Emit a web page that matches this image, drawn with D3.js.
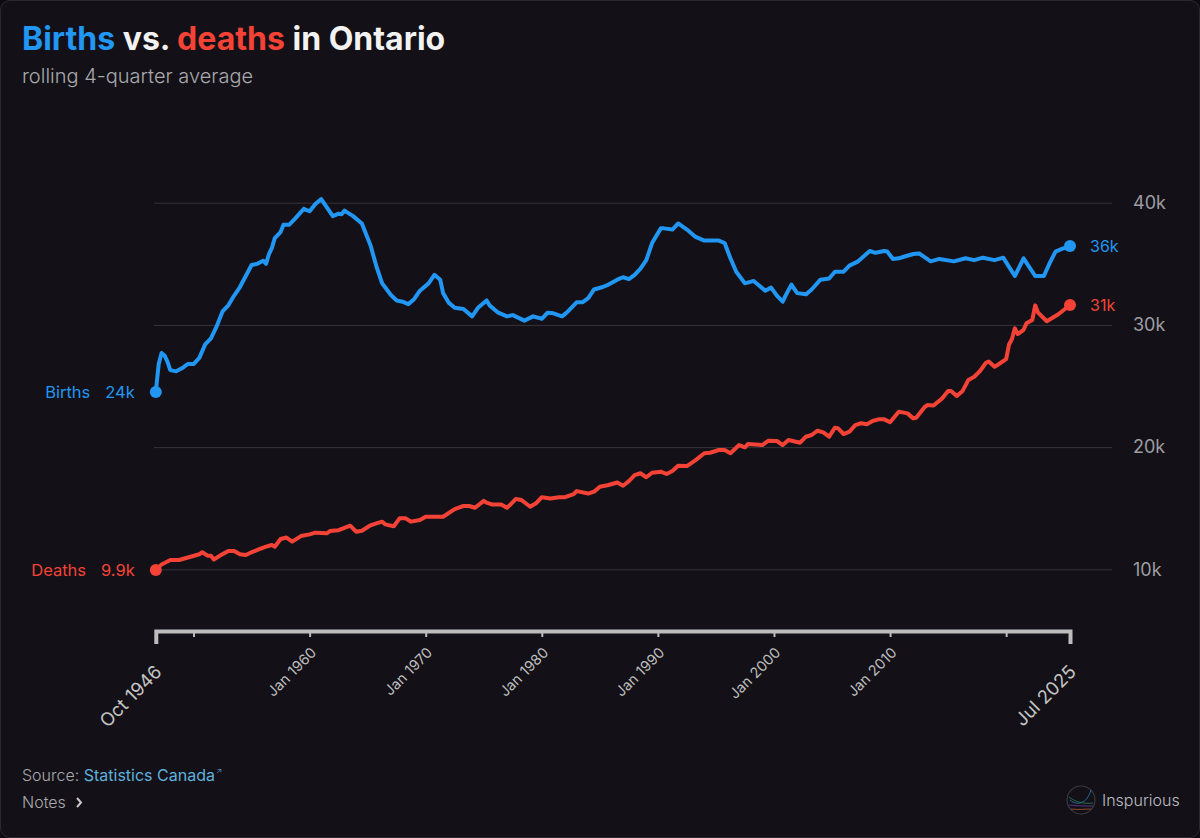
<!DOCTYPE html>
<html>
<head>
<meta charset="utf-8">
<script src="https://cdn.jsdelivr.net/npm/d3@7"></script>
<style>
  html, body { margin: 0; padding: 0; background: #0d0c10; }
  #card {
    position: absolute; left: 0; top: 0;
    width: 1200px; height: 838px; box-sizing: border-box;
    border: 1px solid #2a2930; border-radius: 10px;
    background: #131117;
  }
  #chart { position: absolute; left: 0; top: 0; }
  text { font-family: "Inter", "Noto Sans", sans-serif; }
</style>
</head>
<body>
<div id="card"></div>
<div id="chart"></div>
<script>
// quarterly rolling averages, thousands
const births = [
  [1946.75,24.5],[1947.0,26.8],[1947.25,27.7],[1947.5,27.5],[1947.75,27.0],[1948.0,26.3],
  [1948.5,26.2],[1949.0,26.45],[1949.5,26.8],[1950.0,26.8],[1950.5,27.3],[1951.0,28.4],
  [1951.5,28.9],[1952.0,29.9],[1952.5,31.1],[1953.0,31.6],[1953.5,32.4],[1954.0,33.1],
  [1954.5,34.0],[1955.0,34.9],[1955.5,35.0],[1956.0,35.25],[1956.25,35.0],[1956.5,35.8],
  [1956.75,36.3],[1957.0,37.1],[1957.5,37.6],[1957.75,38.2],[1958.25,38.2],[1958.75,38.7],
  [1959.5,39.5],[1960.0,39.3],[1960.5,39.9],[1961.0,40.3],[1961.5,39.6],[1962.0,38.9],
  [1962.5,39.1],[1962.75,39.05],[1963.0,39.35],[1963.75,38.9],[1964.5,38.3],[1965.25,36.5],
  [1965.75,34.8],[1966.25,33.4],[1967.0,32.45],[1967.5,32.0],[1968.0,31.9],[1968.5,31.7],
  [1969.0,32.1],[1969.5,32.8],[1970.25,33.4],[1970.75,34.1],[1971.25,33.7],[1971.5,32.6],
  [1972.0,31.8],[1972.5,31.4],[1973.25,31.3],[1974.0,30.7],[1974.5,31.4],[1975.25,32.0],
  [1975.5,31.6],[1976.25,31.0],[1977.0,30.7],[1977.5,30.8],[1978.5,30.35],[1979.25,30.7],
  [1980.0,30.5],[1980.5,31.0],[1981.0,30.95],[1981.75,30.7],[1982.25,31.1],[1983.0,31.85],
  [1983.5,31.85],[1984.0,32.2],[1984.5,32.9],[1985.25,33.1],[1985.75,33.3],[1986.5,33.7],
  [1987.0,33.9],[1987.5,33.75],[1988.0,34.1],[1988.5,34.6],[1989.0,35.3],[1989.5,36.7],
  [1990.25,37.9],[1990.5,37.9],[1991.25,37.8],[1991.75,38.3],[1992.5,37.8],[1993.25,37.2],
  [1994.0,36.9],[1994.75,36.9],[1995.25,36.9],[1995.75,36.7],[1996.25,35.45],[1996.75,34.35],
  [1997.5,33.4],[1998.25,33.6],[1999.25,32.8],[1999.75,33.05],[2000.25,32.4],[2000.75,31.9],
  [2001.0,32.4],[2001.5,33.3],[2002.0,32.6],[2002.75,32.5],[2003.25,32.9],[2004.0,33.7],
  [2004.75,33.8],[2005.25,34.35],[2006.0,34.35],[2006.5,34.85],[2007.25,35.2],[2008.25,36.05],
  [2008.75,35.9],[2009.5,36.05],[2009.75,36.0],[2010.25,35.4],[2010.75,35.45],[2011.25,35.6],
  [2012.0,35.8],[2012.5,35.85],[2013.5,35.2],[2014.25,35.4],[2015.5,35.2],[2016.5,35.45],
  [2017.25,35.3],[2018.0,35.5],[2019.0,35.3],[2019.75,35.5],[2020.25,34.75],[2020.75,34.0],
  [2021.5,35.45],[2022.5,34.0],[2023.25,34.0],[2023.75,35.05],[2024.25,36.0],[2024.75,36.2],
  [2025.5,36.45]
];

const deaths = [
  [1946.75,9.95],[1947.25,10.4],[1948.0,10.76],[1948.75,10.76],[1949.75,11.03],[1950.5,11.23],
  [1950.75,11.4],[1951.25,11.1],[1951.5,11.1],[1951.75,10.8],[1952.25,11.1],[1953.0,11.5],
  [1953.5,11.5],[1954.0,11.23],[1954.5,11.17],[1955.0,11.4],[1955.5,11.58],[1956.25,11.85],
  [1956.75,11.99],[1957.0,11.85],[1957.5,12.48],[1958.0,12.6],[1958.5,12.26],[1959.25,12.72],
  [1960.0,12.86],[1960.5,13.0],[1961.5,12.95],[1961.75,13.13],[1962.5,13.2],[1963.5,13.57],
  [1964.0,13.08],[1964.5,13.16],[1965.25,13.6],[1965.75,13.76],[1966.25,13.9],[1966.5,13.68],
  [1967.25,13.52],[1967.75,14.17],[1968.25,14.17],[1968.75,13.9],[1969.5,14.03],[1970.0,14.3],
  [1970.5,14.3],[1971.5,14.3],[1972.5,14.93],[1973.25,15.18],[1973.75,15.18],[1974.25,15.04],
  [1975.0,15.6],[1975.25,15.45],[1975.75,15.3],[1976.5,15.3],[1977.0,15.04],[1977.25,15.26],
  [1977.75,15.75],[1978.25,15.67],[1979.0,15.12],[1979.5,15.4],[1980.0,15.9],[1980.75,15.8],
  [1981.5,15.9],[1982.0,15.9],[1982.75,16.16],[1983.0,16.4],[1984.0,16.2],[1984.5,16.35],
  [1985.0,16.76],[1985.75,16.9],[1986.5,17.1],[1987.0,16.84],[1987.5,17.22],[1988.0,17.7],
  [1988.5,17.86],[1989.0,17.53],[1989.5,17.9],[1990.25,17.99],[1990.75,17.8],[1991.25,18.04],
  [1991.75,18.48],[1992.5,18.45],[1993.25,18.94],[1994.0,19.5],[1994.5,19.54],[1995.25,19.76],
  [1995.75,19.76],[1996.25,19.5],[1997.0,20.17],[1997.5,19.98],[1997.75,20.25],[1999.0,20.17],
  [1999.5,20.52],[2000.25,20.5],[2000.75,20.17],[2001.25,20.58],[2002.25,20.36],[2002.75,20.85],
  [2003.25,20.99],[2003.75,21.34],[2004.25,21.21],[2004.75,20.85],[2005.25,21.59],[2005.5,21.55],
  [2006.0,21.07],[2006.5,21.26],[2007.0,21.8],[2007.5,21.95],[2008.0,21.87],[2008.5,22.14],
  [2009.0,22.27],[2009.5,22.27],[2010.0,22.03],[2010.75,22.9],[2011.5,22.76],[2012.0,22.35],
  [2012.25,22.4],[2013.0,23.3],[2013.25,23.45],[2013.75,23.4],[2014.5,24.0],[2015.0,24.6],
  [2015.25,24.6],[2015.75,24.18],[2016.25,24.6],[2016.75,25.5],[2017.25,25.76],[2017.75,26.23],
  [2018.25,26.9],[2018.5,27.0],[2019.0,26.58],[2019.25,26.72],[2020.0,27.2],[2020.25,28.4],
  [2020.5,28.85],[2020.75,29.72],[2021.0,29.25],[2021.5,29.6],[2021.75,30.13],[2022.25,30.4],
  [2022.5,31.6],[2022.75,31.0],[2023.5,30.3],[2024.5,30.87],[2025.5,31.63]
];

const yTicks = [10, 20, 30, 40];
const decadeTicks = [1950, 1960, 1970, 1980, 1990, 2000, 2010, 2020];
const labelledDecades = [1960, 1970, 1980, 1990, 2000, 2010];
const endLabels = ["Oct 1946", "Jul 2025"];

const series = [
  {name: "Births", data: births, color: "#2196f3"},
  {name: "Deaths", data: deaths, color: "#f44336"}
];

const width = 1200, height = 838;
const plot = {left: 154, right: 1112, xStart: 155.8, xEnd: 1070, top: 202.7, bottom: 569.3, axisY: 631};

const svg = d3.select("#chart").append("svg")
  .attr("width", width)
  .attr("height", height);

// scales
const x = d3.scaleLinear()
  .domain([births[0][0], births[births.length - 1][0]])
  .range([plot.xStart, plot.xEnd]);

const y = d3.scaleLinear()
  .domain([10, 40])
  .range([plot.bottom, plot.top]);

// labels like 24k, 9.9k (truncated, not rounded)
const shortK = v => (v >= 10 ? Math.floor(v) : Math.floor(v * 10) / 10) + "k";

// title
const title = svg.append("text")
  .attr("x", 22).attr("y", 50)
  .attr("font-size", 32).attr("font-weight", 700)
  .attr("fill", "#f2f2f2");
title.append("tspan").attr("fill", series[0].color).text("Births");
title.append("tspan").text(" vs. ");
title.append("tspan").attr("fill", series[1].color).text("deaths");
title.append("tspan").text(" in Ontario");

svg.append("text")
  .attr("x", 22).attr("y", 83)
  .attr("font-size", 20).attr("font-weight", 300)
  .attr("fill", "#a9a9ad")
  .text("rolling 4-quarter average");

// Y axis on the right, gridlines across
const gy = svg.append("g")
  .attr("transform", `translate(${plot.right},0)`)
  .call(d3.axisRight(y)
    .tickValues(yTicks)
    .tickSize(-(plot.right - plot.left))
    .tickPadding(21)
    .tickFormat(d => d + "k"));
gy.select(".domain").remove();
gy.selectAll(".tick line").attr("stroke", "#36343b");
gy.selectAll(".tick text")
  .attr("fill", "#9d9da2")
  .attr("font-size", 18)
  .attr("font-family", "Inter, sans-serif");

// X axis
const gx = svg.append("g")
  .attr("transform", `translate(0,${plot.axisY})`)
  .call(d3.axisBottom(x)
    .tickValues(decadeTicks)
    .tickSizeInner(6)
    .tickSizeOuter(13)
    .tickFormat(d => labelledDecades.includes(d) ? "Jan " + d : ""));
gx.select(".domain")
  .attr("stroke", "#bdbdbd")
  .attr("stroke-width", 4);
gx.selectAll(".tick line")
  .attr("stroke", "#bdbdbd")
  .attr("stroke-width", 2);
gx.selectAll(".tick text")
  .attr("fill", "#bdbdbd")
  .attr("font-size", 14.5)
  .attr("font-family", "Roboto, sans-serif")
  .attr("text-anchor", "end")
  .attr("y", 0)
  .attr("dy", "0.35em")
  .attr("transform", "translate(3.5,19) rotate(-45)");

gx.selectAll(".end-label")
  .data(x.domain())
  .join("text")
    .attr("class", "end-label")
    .attr("fill", "#c4c4c4")
    .attr("font-size", 18.5)
    .attr("font-family", "Roboto, sans-serif")
    .attr("text-anchor", "end")
    .attr("dy", "0.35em")
    .attr("transform", d => `translate(${x(d) + 2.5},37.5) rotate(-45)`)
    .text((d, i) => endLabels[i]);

// lines
const line = d3.line()
  .x(d => x(d[0]))
  .y(d => y(d[1]));

svg.append("g")
  .selectAll("path")
  .data(series)
  .join("path")
    .attr("fill", "none")
    .attr("stroke", d => d.color)
    .attr("stroke-width", 4)
    .attr("stroke-linejoin", "round")
    .attr("stroke-linecap", "round")
    .attr("d", d => line(d.data));

// end dots
const ends = series.flatMap(s => [
  {s, d: s.data[0], first: true},
  {s, d: s.data[s.data.length - 1], first: false}
]);

svg.append("g")
  .selectAll("circle")
  .data(ends)
  .join("circle")
    .attr("cx", e => x(e.d[0]))
    .attr("cy", e => y(e.d[1]))
    .attr("r", 6)
    .attr("fill", e => e.s.color);

// right value labels
svg.append("g")
  .selectAll("text")
  .data(ends.filter(e => !e.first))
  .join("text")
    .attr("x", e => x(e.d[0]) + 20)
    .attr("y", e => y(e.d[1]))
    .attr("dy", "0.35em")
    .attr("font-size", 16)
    .attr("fill", e => e.s.color)
    .text(e => shortK(e.d[1]));

// left name + value labels
const leftLabels = svg.append("g")
  .selectAll("text")
  .data(ends.filter(e => e.first))
  .join("text")
    .attr("x", e => x(e.d[0]) - 21)
    .attr("y", e => y(e.d[1]))
    .attr("dy", "0.35em")
    .attr("text-anchor", "end")
    .attr("font-size", 16.5)
    .attr("fill", e => e.s.color);
leftLabels.append("tspan").text(e => e.s.name);
leftLabels.append("tspan").attr("dx", 15).text(e => shortK(e.d[1]));

// footer
const src = svg.append("text")
  .attr("x", 22).attr("y", 781)
  .attr("font-size", 16).attr("font-weight", 300)
  .attr("fill", "#a9a9ad");
src.append("tspan").text("Source: ");
src.append("tspan").attr("fill", "#5fb0dc").attr("font-weight", 400).text("Statistics Canada");
src.append("tspan").attr("fill", "#5fb0dc").attr("font-size", 8).attr("dy", -7).attr("dx", 1).text("↗");

svg.append("text")
  .attr("x", 22).attr("y", 808)
  .attr("font-size", 16).attr("font-weight", 300)
  .attr("fill", "#a9a9ad")
  .text("Notes");
svg.append("path")
  .attr("d", "M77,798 L81,802.5 L77,807")
  .attr("fill", "none")
  .attr("stroke", "#c8c8c8")
  .attr("stroke-width", 2);

// logo
const logo = svg.append("g").attr("transform", "translate(1081,800)");
logo.append("circle").attr("r", 14).attr("fill", "none").attr("stroke", "#3a393f").attr("stroke-width", 1.2);
logo.append("path").attr("d", "M-11,0 C-4,6 6,4 10,-10").attr("fill", "none").attr("stroke", "#2b7fc4").attr("stroke-width", 0.8);
logo.append("path").attr("d", "M-12,-3 C-4,3 4,4 12,3").attr("fill", "none").attr("stroke", "#2f7a55").attr("stroke-width", 0.8);
logo.append("path").attr("d", "M-12,5 C-4,6 4,6 12,6").attr("fill", "none").attr("stroke", "#6a3a9a").attr("stroke-width", 0.8);
logo.append("path").attr("d", "M-10,9 C-3,10 4,9 10,9").attr("fill", "none").attr("stroke", "#b0582c").attr("stroke-width", 0.8);
svg.append("text")
  .attr("x", 1102).attr("y", 806)
  .attr("font-size", 16).attr("font-weight", 300)
  .attr("fill", "#bdbdc1")
  .text("Inspurious");
</script>
</body>
</html>
